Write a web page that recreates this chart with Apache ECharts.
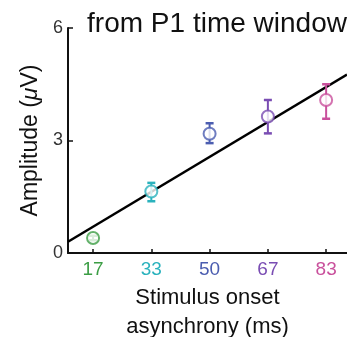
<!DOCTYPE html>
<html><head><meta charset="utf-8">
<script src="https://cdn.jsdelivr.net/npm/echarts@6/dist/echarts.min.js"></script>
<style>html,body{margin:0;padding:0;background:#fff}#c{width:347px;height:337px}</style>
</head><body><div id="c"></div>
<script>
const soa = [16.67, 33.33, 50, 66.67, 83.33];
const soaLabels = ['17', '33', '50', '67', '83'];
const amp = [0.40, 1.64, 3.18, 3.64, 4.08];
const errLow = [0.34, 1.38, 2.93, 3.19, 3.58];
const errHigh = [0.46, 1.87, 3.46, 4.08, 4.50];
const colors = ['#3c9e45', '#2ab2bd', '#4b5db0', '#7a4db3', '#c9509c'];
const fitX = [9.5, 89.3];
const fitY = [0.30, 4.76];
const yTicks = [0, 3, 6];

const chart = echarts.init(document.getElementById('c'));
const rich = {};
soaLabels.forEach((l, i) => { rich['c' + i] = { color: colors[i], fontSize: 19, fontFamily: 'Liberation Sans' }; });

chart.setOption({
  animation: false,
  title: { text: 'from P1 time window', left: 212, top: 5, textAlign: 'center',
    textStyle: { fontFamily: 'Liberation Sans', fontSize: 28, fontWeight: 'normal', color: '#111' } },
  grid: { left: 68, top: 28, right: 0, bottom: 84, outerBoundsMode: 'none', containLabel: false },
  xAxis: {
    type: 'value', min: fitX[0], max: fitX[1],
    axisLine: { lineStyle: { color: '#111', width: 2 } },
    axisTick: { show: true, inside: true, length: 4, customValues: soa, lineStyle: { color: '#111', width: 1.5 } },
    axisLabel: { customValues: soa, margin: 7,
      formatter: v => { const i = soa.findIndex(s => Math.abs(s - v) < 0.01); return '{c' + i + '|' + soaLabels[i] + '}'; },
      rich: rich },
    splitLine: { show: false },
    name: 'Stimulus onset\nasynchrony (ms)', nameLocation: 'middle', nameGap: 30,
    nameTextStyle: { fontFamily: 'Liberation Sans', fontSize: 22, color: '#111', lineHeight: 29 }
  },
  yAxis: {
    type: 'value', min: 0, max: 6, interval: 3,
    axisLine: { show: true, lineStyle: { color: '#111', width: 2 } },
    axisTick: { show: true, inside: true, length: 5, lineStyle: { color: '#111', width: 1.5 } },
    axisLabel: { fontFamily: 'Liberation Sans', fontSize: 18, color: '#333', margin: 5 },
    splitLine: { show: false },
    name: 'Amplitude ({i|μ}V)', nameLocation: 'middle', nameGap: 26,
    nameTextStyle: { fontFamily: 'Liberation Sans', fontSize: 23, color: '#111',
      rich: { i: { fontFamily: 'Liberation Sans', fontSize: 23, fontStyle: 'italic', color: '#111' } } }
  },
  series: [
    { type: 'line', data: fitX.map((x, i) => [x, fitY[i]]), symbol: 'none',
      lineStyle: { color: '#000', width: 2.5 }, z: 2 },
    { type: 'custom', z: 3,
      data: soa.map((x, i) => [x, errLow[i], errHigh[i], i]),
      renderItem: (params, api) => {
        const x = api.value(0), lo = api.value(1), hi = api.value(2), i = api.value(3);
        const p1 = api.coord([x, lo]), p2 = api.coord([x, hi]);
        const c = colors[i], w = 4;
        return { type: 'group', children: [
          { type: 'line', shape: { x1: p1[0], y1: p1[1], x2: p2[0], y2: p2[1] }, style: { stroke: c, lineWidth: 2 } },
          { type: 'line', shape: { x1: p1[0] - w, y1: p1[1], x2: p1[0] + w, y2: p1[1] }, style: { stroke: c, lineWidth: 2.5 } },
          { type: 'line', shape: { x1: p2[0] - w, y1: p2[1], x2: p2[0] + w, y2: p2[1] }, style: { stroke: c, lineWidth: 2.5 } }
        ] };
      } },
    { type: 'scatter', z: 4, symbol: 'circle', symbolSize: 12,
      data: soa.map((x, i) => ({ value: [x, amp[i]], itemStyle: { color: '#fff', borderColor: colors[i], borderWidth: 2 } })) }
  ]
});
</script></body></html>
